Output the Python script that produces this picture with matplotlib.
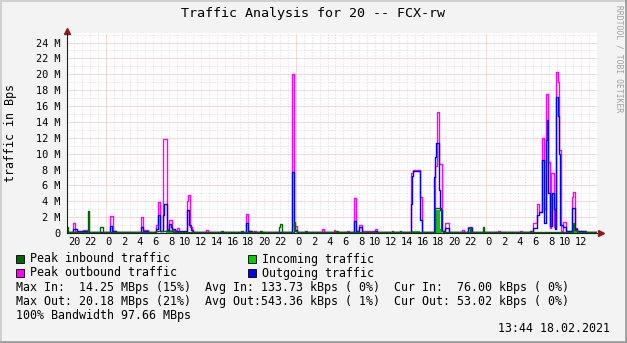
import numpy as np
import matplotlib.pyplot as plt
from matplotlib.patches import Rectangle
from matplotlib.lines import Line2D

plt.rcParams['font.family'] = 'DejaVu Sans Mono'

# time in hours from 17.02 00:00
T_START = -4.90
T_END = 62.03

# peak inbound traffic (dark green line)
t_peak_in = [-4.90, -4.77, -2.25, -2.12, -0.73, -0.35, 6.30, 8.50, 14.55, 14.80, 17.07, 17.32,
             19.47, 19.72, 21.87, 22.00, 22.25, 23.76, 23.90, 24.14, 25.10, 25.40, 29.10, 29.30,
             36.14, 36.30, 37.15, 37.30, 41.57, 42.30, 42.60, 45.98, 46.10, 47.63, 47.75,
             53.56, 53.70, 58.99, 59.10, 59.50, 60.50, 60.70, 62.03]
v_peak_in = [0.8, 0.08, 2.75, 0.08, 0.75, 0.08, 0.3, 0.08, 0.3, 0.08, 0.3, 0.08,
             0.3, 0.08, 0.7, 1.1, 0.08, 1.4, 0.3, 0.08, 0.2, 0.08, 0.2, 0.08,
             0.2, 0.08, 0.2, 0.08, 3.1, 0.3, 0.08, 0.8, 0.08, 0.8, 0.08,
             0.3, 0.08, 1.2, 0.4, 0.08, 0.3, 0.08, 0.08]

# incoming traffic (green area)
t_in = [-4.90, 7.60, 8.90, 38.66, 39.70, 41.69, 42.20, 42.45, 53.00, 58.90, 59.50, 62.03]
v_in = [0.05, 0.35, 0.05, 0.25, 0.05, 2.9, 0.5, 0.05, 0.15, 0.35, 0.15, 0.15]

# peak outbound traffic (magenta line)
t_peak_out = [-4.90, -4.14, -3.89, -3.50, -2.90, -2.40, 0.53, 0.91, 1.30, 4.44, 4.70, 5.30,
              6.34, 6.59, 6.84, 7.22, 7.73, 7.98, 8.36, 8.99, 9.24, 10.25, 10.39, 10.63, 10.90,
              12.65, 12.90, 17.70, 17.95, 18.50, 18.70, 18.95, 23.51, 23.76, 24.14, 27.30, 27.55,
              28.81, 29.00, 30.45, 30.71, 31.34, 31.59, 32.00, 32.35, 33.99, 34.24,
              38.53, 38.79, 39.67, 39.92, 41.57, 41.82, 42.07, 42.45, 42.83, 43.33,
              44.97, 45.20, 45.73, 46.24, 49.52, 49.80, 52.30, 52.60, 53.56, 53.94,
              54.44, 54.70, 55.08, 55.33, 55.58, 55.83, 56.09, 56.21, 56.59, 56.84, 57.10,
              57.22, 57.47, 57.73, 58.11, 58.86, 58.99, 59.24, 59.49, 60.50, 62.03]
v_peak_out = [0.15, 1.25, 0.3, 0.15, 0.35, 0.15, 2.1, 0.3, 0.15, 2.0, 0.4, 0.15,
              1.0, 3.9, 0.3, 11.9, 0.5, 1.7, 0.4, 0.6, 0.15, 4.0, 4.75, 0.8, 0.15,
              0.4, 0.15, 2.4, 0.3, 0.15, 0.3, 0.15, 20.0, 0.9, 0.15, 0.55, 0.15,
              0.4, 0.15, 0.3, 0.15, 4.35, 0.3, 0.95, 0.2, 0.5, 0.15,
              7.6, 8.0, 4.5, 0.15, 8.5, 15.3, 8.75, 0.3, 1.2, 0.15,
              0.4, 0.15, 0.7, 0.15, 0.3, 0.15, 0.3, 0.15, 0.3, 1.3,
              3.7, 2.7, 12.0, 3.0, 17.5, 9.0, 0.6, 7.5, 0.8, 20.3, 19.0,
              10.4, 0.3, 1.4, 0.3, 4.5, 5.2, 0.6, 0.3, 0.15, 0.15]

# outgoing traffic (blue line)
t_out = [-4.90, -4.14, -3.64, -2.40, 0.53, 0.78, 1.30, 4.44, 4.70, 5.30, 6.34, 6.59, 6.84,
         7.22, 7.35, 7.73, 7.98, 8.23, 8.36, 8.70, 10.25, 10.51, 10.76, 11.00, 17.70, 17.95,
         18.50, 23.51, 23.76, 24.14, 31.34, 31.59, 32.00, 32.35, 34.00, 34.24,
         38.53, 38.66, 38.79, 39.67, 39.92, 41.44, 41.57, 41.69, 42.07, 42.20, 42.45,
         42.83, 43.33, 45.73, 46.24, 53.94, 54.44, 54.70, 55.08, 55.33, 55.58, 55.71,
         55.83, 56.09, 56.34, 56.59, 56.72, 56.84, 57.10, 57.22, 57.35, 57.73, 58.11,
         58.86, 59.24, 59.49, 60.50, 62.03]
v_out = [0.12, 0.45, 0.25, 0.12, 0.9, 0.25, 0.12, 0.7, 0.25, 0.12, 0.5, 2.3, 0.2,
         2.3, 3.65, 0.4, 1.1, 0.8, 0.5, 0.2, 2.95, 1.0, 0.4, 0.12, 1.2, 0.3,
         0.12, 7.7, 0.35, 0.12, 1.5, 0.2, 0.7, 0.12, 0.2, 0.12,
         3.7, 7.2, 7.8, 1.6, 0.12, 7.1, 9.6, 11.3, 5.4, 2.9, 0.3,
         0.6, 0.12, 0.6, 0.12, 0.6, 2.3, 2.6, 9.25, 1.2, 11.7, 14.2,
         5.0, 0.9, 5.1, 3.0, 0.5, 17.1, 14.8, 9.9, 1.0, 0.8, 0.2,
         3.1, 0.5, 0.2, 0.12, 0.12]

y_ticks = list(range(0, 25, 2))
y_labels = ["0" if v == 0 else f"{v} M" for v in y_ticks]
x_ticks = list(range(-4, 61, 2))
x_labels = [f"{h % 24:2d}" for h in x_ticks]

fig = plt.figure(figsize=(6.27, 3.43), dpi=100, facecolor='#F3F3F3')
ax = fig.add_axes([67/627, 110/343, 530/627, 200/343])
ax.set_facecolor('white')
ax.set_xlim(T_START, T_END)
ax.set_ylim(0, 25.2)

# grid
for h in np.arange(-4, 63, 1):
    if h % 24 == 0:
        ax.axvline(h, color='#EAB4B4', lw=0.72, ls=(0, (1, 1)), zorder=0.6)
    else:
        ax.axvline(h, color='#DCDCDC', lw=0.72, ls=(0, (1, 2)), zorder=0.5)
for v in range(1, 26):
    if v % 2 == 0:
        ax.axhline(v, color='#EAB4B4', lw=0.72, ls=(0, (1, 1)), zorder=0.6)
    else:
        ax.axhline(v, color='#DCDCDC', lw=0.72, ls=(0, (1, 2)), zorder=0.5)

ax.fill_between(t_in, v_in, step='post', color='#00CC00', lw=0, zorder=2)
ax.step(t_peak_out, v_peak_out, where='post', color='#FF00FF', lw=1.0, zorder=3)
ax.step(t_out, v_out, where='post', color='#0000FF', lw=1.0, zorder=4)
ax.step(t_peak_in, v_peak_in, where='post', color='#006600', lw=1.0, zorder=5)

ax.set_yticks(y_ticks)
ax.set_yticklabels(y_labels)
ax.set_xticks(x_ticks)
ax.set_xticklabels(x_labels)
ax.tick_params(axis='both', length=0, labelsize=7.4)
ax.tick_params(axis='y', pad=5)
ax.tick_params(axis='x', pad=3)
for s in ['top', 'right']:
    ax.spines[s].set_visible(False)
for s in ['left', 'bottom']:
    ax.spines[s].set_color('#1F1F1F')
    ax.spines[s].set_linewidth(0.8)
    ax.spines[s].set_zorder(6)

# axis arrows
ax.plot([0], [1.012], marker='^', color='#8B1A1A', markersize=4.5, transform=ax.transAxes, clip_on=False)
ax.plot([1.007], [0], marker='>', color='#8B1A1A', markersize=4.5, transform=ax.transAxes, clip_on=False)

W, H = 627, 343
def fx(x):
    return x / W
def fy(y):
    return 1 - y / H

fig.text(fx(313), fy(13), "Traffic Analysis for 20 -- FCX-rw", ha='center', va='center', fontsize=9.6)
fig.text(fx(11), fy(133), "traffic in Bps", rotation=90, ha='center', va='center', fontsize=8.4)
fig.text(fx(619), fy(5), "RRDTOOL / TOBI OETIKER", rotation=270, ha='center', va='top',
         fontsize=5.8, color='#A0A0A0')

legend = [("Peak inbound traffic", '#006600', 16, 259), ("Incoming traffic", '#00CC00', 248, 259),
          ("Peak outbound traffic", '#FF00FF', 16, 273), ("Outgoing traffic", '#0000FF', 248, 273)]
for label, col, x, y in legend:
    fig.patches.append(Rectangle((fx(x), fy(y + 4)), 8/W, 8/H, transform=fig.transFigure,
                                 facecolor=col, edgecolor='black', lw=0.6))
    fig.text(fx(x + 14), fy(y), label, ha='left', va='center', fontsize=8.4)

stats = ["Max In:  14.25 MBps (15%)  Avg In: 133.73 kBps ( 0%)  Cur In:  76.00 kBps ( 0%)",
         "Max Out: 20.18 MBps (21%)  Avg Out:543.36 kBps ( 1%)  Cur Out: 53.02 kBps ( 0%)",
         "100% Bandwidth 97.66 MBps"]
for i, line in enumerate(stats):
    fig.text(fx(16), fy(287 + 14 * i), line, ha='left', va='center', fontsize=8.4)
fig.text(fx(610), fy(329), "13:44 18.02.2021", ha='right', va='center', fontsize=8.4)

# frame
fig.lines.append(Line2D([0, 1], [1 - 1/H, 1 - 1/H], transform=fig.transFigure, color='#CFCFCF', lw=1.5))
fig.lines.append(Line2D([1/W, 1/W], [0, 1], transform=fig.transFigure, color='#CFCFCF', lw=1.5))
fig.lines.append(Line2D([1 - 1.5/W, 1 - 1.5/W], [0, 1], transform=fig.transFigure, color='#9E9E9E', lw=2))
fig.lines.append(Line2D([0, 1], [1.5/H, 1.5/H], transform=fig.transFigure, color='#9E9E9E', lw=2))

fig.savefig('out.png', dpi=100, facecolor=fig.get_facecolor())
